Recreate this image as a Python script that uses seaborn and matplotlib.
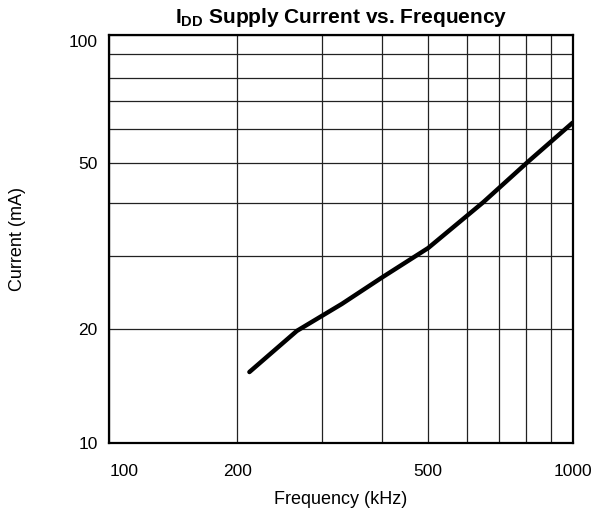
import matplotlib
matplotlib.use("AGG")
import matplotlib.pyplot as plt
import seaborn as sns
import pandas as pd
import numpy as np
from matplotlib.ticker import FixedLocator, NullFormatter

# values
freq_khz = [212, 266, 330, 400, 500, 650, 808, 1000]
current_ma = [15.4, 19.8, 23.0, 26.6, 31.3, 40.2, 50.3, 62.1]

x_major = [100, 200, 500, 1000]
x_minor = [300, 400, 600, 700, 800, 900]
y_major = [10, 20, 50, 100]
y_minor = [30, 40, 60, 70, 80, 90]

# the printed log grid is a bit uneven, so map each decade line to where
# it sits on the original sheet (fraction of the axis)
x_grid = [100, 200, 300, 400, 500, 600, 700, 800, 900, 1000]
x_grid_frac = [0.0, 0.276, 0.459, 0.588, 0.688, 0.771, 0.840, 0.899, 0.954, 1.0]
y_grid = [10, 20, 30, 40, 50, 60, 70, 80, 90, 100]
y_grid_frac = [0.0, 0.278, 0.458, 0.587, 0.686, 0.769, 0.838, 0.895, 0.952, 1.0]


def sheet_scale(grid, frac):
    lg = np.log10(grid)
    # extend log-linearly past the ends so the mapping stays invertible
    lg = np.concatenate([[lg[0] - 3], lg, [lg[-1] + 3]])
    fr = np.concatenate([[frac[0] - 3], frac, [frac[-1] + 3]])

    def fwd(v):
        v = np.asarray(v, dtype=float)
        return np.interp(np.log10(np.clip(v, 1e-9, None)), lg, fr)

    def inv(f):
        return 10 ** np.interp(np.asarray(f, dtype=float), fr, lg)
    return fwd, inv


sns.set_style("white")
plt.rcParams['font.family'] = ['Liberation Sans', 'DejaVu Sans']
plt.rcParams['mathtext.fontset'] = 'custom'
plt.rcParams['mathtext.rm'] = 'Liberation Sans'
plt.rcParams['mathtext.bf'] = 'Liberation Sans:bold'
plt.rcParams['text.color'] = 'black'
plt.rcParams['axes.labelcolor'] = 'black'

df = pd.DataFrame({'Frequency': freq_khz, 'Current': current_ma})

fig = plt.figure(figsize=(5.98, 5.12), dpi=100)
ax = fig.add_axes([0.1828, 0.1354, 0.7749, 0.7968])

sns.lineplot(data=df, x='Frequency', y='Current', ax=ax, color='black',
             linewidth=3.2, solid_capstyle='round', solid_joinstyle='round')

ax.set_xscale('function', functions=sheet_scale(x_grid, x_grid_frac))
ax.set_yscale('function', functions=sheet_scale(y_grid, y_grid_frac))
ax.set_xlim(100, 1000)
ax.set_ylim(10, 100)

ax.xaxis.set_major_locator(FixedLocator(x_major))
ax.xaxis.set_minor_locator(FixedLocator(x_minor))
ax.yaxis.set_major_locator(FixedLocator(y_major))
ax.yaxis.set_minor_locator(FixedLocator(y_minor))
ax.set_xticklabels([str(v) for v in x_major])
ax.set_yticklabels([str(v) for v in y_major])
ax.xaxis.set_minor_formatter(NullFormatter())
ax.yaxis.set_minor_formatter(NullFormatter())
ax.tick_params(which='both', length=0, labelsize=12.5, colors='black')
ax.tick_params(axis='x', pad=15)
ax.tick_params(axis='y', pad=8.5)
ax.get_xticklabels()[0].set_ha('left')
ax.get_yticklabels()[-1].set_va('top')

ax.grid(True, which='both', color='#222222', linewidth=0.9)
for s in ax.spines.values():
    s.set_color('black')
    s.set_linewidth(1.6)

ax.set_xlabel('Frequency (kHz)', fontsize=13, color='black')
ax.set_ylabel('Current (mA)', fontsize=13, color='black')
ax.xaxis.label.set_va('center')
ax.yaxis.label.set_va('center')
ax.xaxis.set_label_coords(0.5, -0.14)
ax.yaxis.set_label_coords(-0.198, 0.5)
ax.set_title(r'$\mathbf{I_{DD}}$ Supply Current vs. Frequency', color='black',
             fontsize=15, fontweight='bold', y=1.043, va='center', pad=0)

plt.savefig('out.png', dpi=100)
